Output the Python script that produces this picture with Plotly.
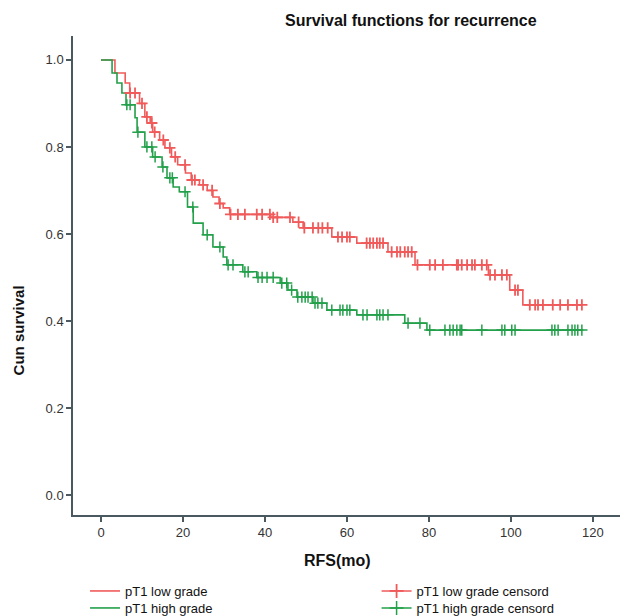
import numpy as np
import plotly.graph_objects as go

# ---- data (months, cumulative survival) ----
low_t = [0, 3.4, 5.9, 7.0, 9.4, 10.7, 12.0, 12.6, 14.3, 15.6, 17.2, 18.7, 20.6, 22.0, 24.0,
         25.9, 27.3, 28.8, 29.8, 31.4, 41.4, 46.8, 49.3, 56.3, 62.4, 70.0, 76.6, 94.5, 99.7, 102.9]
low_s = [1.0, 0.97, 0.947, 0.924, 0.90, 0.869, 0.855, 0.834, 0.816, 0.798, 0.777, 0.759, 0.74, 0.724, 0.713,
         0.70, 0.685, 0.67, 0.66, 0.645, 0.638, 0.627, 0.614, 0.593, 0.579, 0.559, 0.529, 0.506, 0.471, 0.437]
low_end = 117.3
low_cens = [7.1, 8.3, 10.0, 11.2, 12.4, 13.1, 15.2, 16.8, 18.1, 20.5, 22.2, 22.9, 24.9, 27.1, 29.0,
            31.6, 33.4, 35.1, 38.0, 39.3, 41.2, 42.0, 43.0, 46.1, 48.2, 49.6, 51.7, 53.0, 54.0, 55.3,
            57.8, 58.8, 60.0, 60.7, 64.8, 65.6, 66.4, 67.3, 68.0, 68.8, 70.9, 72.2, 73.0, 74.1, 74.9,
            75.8, 77.2, 80.2, 81.5, 83.4, 86.8, 87.1, 88.0, 89.3, 90.5, 91.2, 92.9, 94.1, 94.9, 96.1,
            97.8, 99.0, 101.0, 101.7, 104.6, 105.9, 106.6, 107.8, 110.2, 112.0, 113.9, 116.1, 117.3]

high_t = [0, 2.7, 3.9, 5.1, 6.1, 8.3, 8.8, 10.7, 12.6, 14.9, 16.1, 17.6, 19.1, 21.1, 22.5,
          24.9, 27.3, 29.8, 30.7, 34.6, 38.0, 43.7, 45.6, 47.8, 51.7, 55.1, 62.4, 74.1, 79.5]
high_s = [1.0, 0.97, 0.947, 0.924, 0.897, 0.867, 0.834, 0.80, 0.777, 0.754, 0.729, 0.708, 0.697, 0.662, 0.625,
          0.598, 0.570, 0.547, 0.529, 0.513, 0.50, 0.487, 0.471, 0.455, 0.441, 0.425, 0.414, 0.395, 0.379]
high_end = 117.3
high_cens = [6.3, 7.1, 9.0, 11.2, 12.4, 13.2, 15.1, 16.8, 17.4, 20.5, 22.4, 25.9, 29.0, 31.0, 32.2,
             35.1, 35.9, 38.3, 39.3, 40.5, 42.0, 44.1, 45.3, 46.5, 48.0, 49.0, 49.8, 50.5, 51.5, 52.2,
             52.9, 53.9, 56.3, 58.3, 59.0, 60.0, 60.7, 63.9, 64.9, 67.3, 68.0, 68.8, 70.0, 74.9, 77.8,
             80.2, 83.9, 85.1, 85.9, 86.8, 87.6, 88.0, 92.9, 97.8, 98.5, 100.2, 101.0, 110.0, 110.7,
             111.5, 113.9, 114.9, 115.6, 116.3, 117.3]

x_ticks = [0, 20, 40, 60, 80, 100, 120]
y_ticks = [0.0, 0.2, 0.4, 0.6, 0.8, 1.0]

RED = "#f05a5a"
GREEN = "#23a04a"


def step_xy(t, s, end):
    return list(t) + [end], list(s) + [s[-1]]


def cens_y(t, s, c):
    idx = np.searchsorted(np.array(t), np.array(c), side="right") - 1
    return [s[i] for i in idx]


fig = go.Figure()

lx, ly = step_xy(low_t, low_s, low_end)
hx, hy = step_xy(high_t, high_s, high_end)

fig.add_trace(go.Scatter(x=lx, y=ly, mode="lines", line=dict(color=RED, width=1.6, shape="hv"),
                         name="pT1 low grade", legend="legend"))
fig.add_trace(go.Scatter(x=hx, y=hy, mode="lines", line=dict(color=GREEN, width=1.6, shape="hv"),
                         name="pT1 high grade", legend="legend2"))

fig.add_trace(go.Scatter(x=low_cens, y=cens_y(low_t, low_s, low_cens), mode="markers",
                         marker=dict(symbol="cross-thin", size=8, line=dict(color=RED, width=1.8)),
                         showlegend=False))
fig.add_trace(go.Scatter(x=high_cens, y=cens_y(high_t, high_s, high_cens), mode="markers",
                         marker=dict(symbol="cross-thin", size=8, line=dict(color=GREEN, width=1.5)),
                         showlegend=False))

# legend entries for censored markers (line + cross)
fig.add_trace(go.Scatter(x=[None], y=[None], mode="lines+markers", line=dict(color=RED, width=1.6),
                         marker=dict(symbol="cross-thin", size=10, line=dict(color=RED, width=1.8)),
                         name="pT1 low grade censord", legend="legend3"))
fig.add_trace(go.Scatter(x=[None], y=[None], mode="lines+markers", line=dict(color=GREEN, width=1.6),
                         marker=dict(symbol="cross-thin", size=10, line=dict(color=GREEN, width=1.5)),
                         name="pT1 high grade censord", legend="legend4"))

AX = "#4a5860"
FONT = "Liberation Sans, Arial, sans-serif"

W, H = 625, 608  # page adds an 8px body margin


def leg(x, y_px):
    return dict(x=x, y=1 - y_px / H, yref="container", xanchor="left", yanchor="middle",
                orientation="v", font=dict(size=13, color="#111111"), bgcolor="rgba(0,0,0,0)",
                itemwidth=30, borderwidth=0)


fig.update_layout(
    width=W, height=H,
    margin=dict(l=65, r=13, t=28, b=101, autoexpand=False),
    paper_bgcolor="white", plot_bgcolor="white",
    font=dict(family=FONT, color="#222222", size=12),
    xaxis=dict(range=[-6.83, 126.6], tickvals=x_ticks, ticks="outside", ticklen=5, tickwidth=1.5,
               tickcolor=AX, showline=True, linecolor=AX, linewidth=1.5, showgrid=False, zeroline=False,
               tickfont=dict(size=13, color="#333333")),
    yaxis=dict(range=[-0.046, 1.055], tickvals=y_ticks, tickformat=".1f", ticks="outside", ticklen=5,
               tickwidth=1.5, tickcolor=AX, showline=True, linecolor=AX, linewidth=1.5, showgrid=False,
               zeroline=False, tickfont=dict(size=13, color="#333333")),
    legend=leg(0.022, 583),
    legend2=leg(0.022, 600),
    legend3=leg(0.555, 583),
    legend4=leg(0.555, 600),
    annotations=[
        dict(text="<b>Survival functions for recurrence</b>", x=0.618, y=1.033, xref="paper", yref="paper",
             xanchor="center", yanchor="middle", showarrow=False, font=dict(size=16, color="#111111")),
        dict(text="<b>Cun survival</b>", x=-0.1, y=0.386, xref="paper", yref="paper", textangle=-90,
             xanchor="center", yanchor="middle", showarrow=False, font=dict(size=15, color="#111111")),
        dict(text="<b>RFS(mo)</b>", x=0.483, y=-0.096, xref="paper", yref="paper",
             xanchor="center", yanchor="middle", showarrow=False, font=dict(size=16, color="#111111")),
    ],
)

fig.write_html("out.html")
